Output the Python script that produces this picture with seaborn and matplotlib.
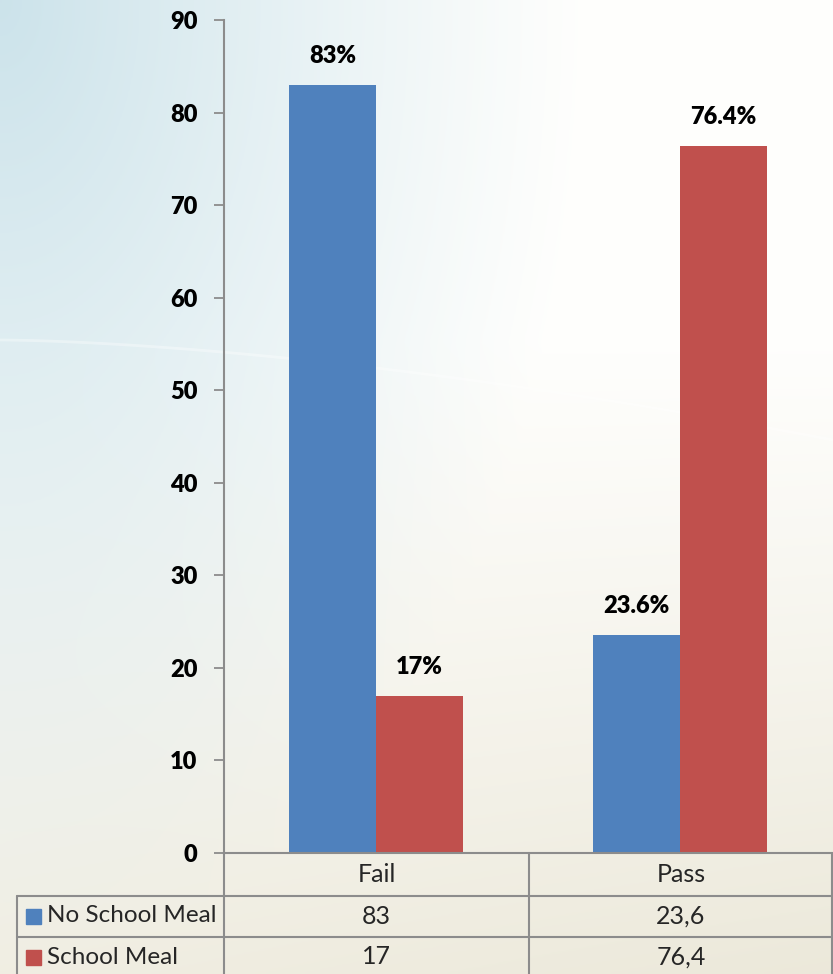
import numpy as np
import pandas as pd
import matplotlib
matplotlib.use("Agg")
import matplotlib.pyplot as plt
import seaborn as sns

# ---- data ----
outcomes = ["Fail", "Pass"]
groups = ["No School Meal", "School Meal"]
no_meal = [83, 23.6]
meal = [17, 76.4]
bar_labels_no_meal = ["83%", "23.6%"]
bar_labels_meal = ["17%", "76.4%"]
table_no_meal = ["83", "23,6"]
table_meal = ["17", "76,4"]
yticks = [0, 10, 20, 30, 40, 50, 60, 70, 80, 90]

colors = ["#4F81BD", "#C0504D"]

df = pd.DataFrame({
    "Outcome": outcomes * 2,
    "Group": [groups[0]] * 2 + [groups[1]] * 2,
    "Value": no_meal + meal,
})

sns.set_theme(style="white")
plt.rcParams["font.family"] = ["Lato", "DejaVu Sans"]

W, H = 833, 974
fig = plt.figure(figsize=(W / 100, H / 100), dpi=100)

# ---- background gradient ----
bg = fig.add_axes([0, 0, 1, 1], zorder=-10)
ny, nx = 300, 300
yy, xx = np.mgrid[0:1:complex(ny), 0:1:complex(nx)]  # yy: 0 top -> 1 bottom
white = np.array([0.997, 0.997, 0.99])
beige = np.array([0.925, 0.912, 0.855])
blue = np.array([0.80, 0.89, 0.92])
t_beige = np.clip((yy - 0.35) / 0.65, 0, 1) ** 1.1 * (0.75 + 0.25 * xx)
img = white[None, None, :] * (1 - t_beige[..., None]) + beige[None, None, :] * t_beige[..., None]
d = np.sqrt((xx / 0.7) ** 2 + (yy / 1.0) ** 2)
w_blue = np.clip(1 - d, 0, 1) ** 1.1
img = img * (1 - w_blue[..., None]) + blue[None, None, :] * w_blue[..., None]
bg.imshow(img, aspect="auto", extent=[0, 1, 0, 1], origin="upper")
# faint curved sheen line
cx_ = np.linspace(0, 1, 100)
cy_ = 1 - (340 + 100 * cx_ ** 1.6) / H
bg.plot(cx_, cy_, color="white", lw=2, alpha=0.35)
bg.set_xlim(0, 1)
bg.set_ylim(0, 1)
bg.axis("off")

def fx(px):
    return px / W

def fy(py):
    return 1 - py / H

# ---- main axes ----
ax = fig.add_axes([fx(224), fy(853), fx(832) - fx(224), fy(20) - fy(853)])
ax.patch.set_alpha(0)
sns.barplot(data=df, x="Outcome", y="Value", hue="Group", order=outcomes,
            hue_order=groups, palette=colors, width=0.57, gap=0,
            saturation=1, legend=False, ax=ax, edgecolor="none")
ax.set_ylim(0, 90)
ax.set_xlim(-0.5, 1.5)
ax.set_yticks(yticks)
ax.set_yticklabels([str(t) for t in yticks], fontsize=17, fontweight="heavy",
                   color="black")
ax.tick_params(axis="y", direction="out", length=7, width=1.3, color="#8c8c8c",
               pad=12, left=True)
ax.tick_params(axis="x", bottom=False, labelbottom=False)
ax.set_xlabel("")
ax.set_ylabel("")
for s in ["top", "right"]:
    ax.spines[s].set_visible(False)
for s in ["left", "bottom"]:
    ax.spines[s].set_color("#8c8c8c")
    ax.spines[s].set_linewidth(1.5)

for cont, labs in zip(ax.containers, [bar_labels_no_meal, bar_labels_meal]):
    ax.bar_label(cont, labels=labs, padding=13, fontsize=17, fontweight="heavy",
                 color="black")

# ---- data table ----
lc = "#8c8c8c"
lw = 1.5
def hline(y, x0, x1):
    fig.add_artist(plt.Line2D([fx(x0), fx(x1)], [fy(y), fy(y)], color=lc, lw=lw))
def vline(x, y0, y1):
    fig.add_artist(plt.Line2D([fx(x), fx(x)], [fy(y0), fy(y1)], color=lc, lw=lw))

hline(896, 17, 832)
hline(937, 17, 832)
vline(224, 853, 974)
vline(529, 853, 974)
vline(831.5, 853, 974)
vline(17, 896, 974)

col_centers = [376.5, 681]
for cx, lab in zip(col_centers, outcomes):
    fig.text(fx(cx), fy(874), lab, ha="center", va="center", fontsize=18)
row_centers = [916, 957]
for ry, vals in zip(row_centers, [table_no_meal, table_meal]):
    for cx, v in zip(col_centers, vals):
        fig.text(fx(cx), fy(ry), v, ha="center", va="center", fontsize=18)
for ry, g, c in zip(row_centers, groups, colors):
    fig.add_artist(plt.Rectangle((fx(26), fy(ry + 8)), fx(15), fy(ry - 7) - fy(ry + 8),
                                 color=c, transform=fig.transFigure))
    fig.text(fx(47), fy(ry), g, ha="left", va="center", fontsize=17.5)

fig.savefig("out.png", dpi=100)
